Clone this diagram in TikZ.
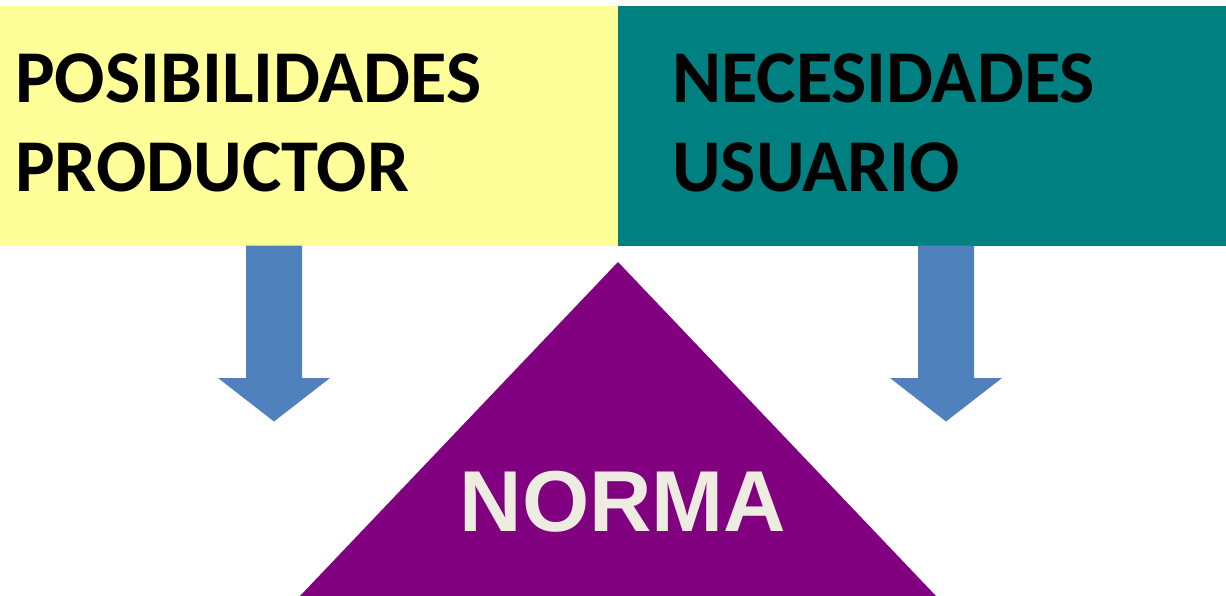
\documentclass[tikz,border=0pt]{standalone}
\usepackage{fontspec}
\setmainfont{Carlito}
\newfontfamily\normafont{Liberation Sans}
\definecolor{boxyellow}{HTML}{FFFF99}
\definecolor{boxteal}{HTML}{008080}
\definecolor{arrowblue}{HTML}{4F81BD}
\definecolor{normapurple}{HTML}{800080}
\definecolor{normatext}{HTML}{EEECE1}
\tikzset{
  box/.style={inner sep=0pt, outer sep=0pt},
  boxtext/.style={anchor=base west, inner sep=0pt, font=\bfseries\fontsize{74.5}{89}\selectfont, text=black},
  downarrow/.style={fill=arrowblue, draw=none},
}
\begin{document}
\begin{tikzpicture}[x=1pt,y=-1pt]
\useasboundingbox (0,0) rectangle (1226,596);
\fill[white] (0,0) rectangle (1226,596);
% boxes
\fill[boxyellow] (0,6) rectangle (618,245.5);
\fill[boxteal] (618,6) rectangle (1226,245.5);
% texts
\node[boxtext] (p1) at (15,103) {POSIBILIDADES};
\node[boxtext] (p2) at (15,192) {PRODUCTOR};
\node[boxtext] (n1) at (672,103) {NECESIDADES};
\node[boxtext] (n2) at (672,192) {USUARIO};
% arrows
\fill[downarrow] (246,245.5) -- (302,245.5) -- (302,378) -- (330,378) -- (274,421.5) -- (218,378) -- (246,378) -- cycle;
\fill[downarrow] (918,245.5) -- (974,245.5) -- (974,378) -- (1002,378) -- (946,421.5) -- (890,378) -- (918,378) -- cycle;
% triangle
\fill[normapurple] (618,262) -- (936,596) -- (300,596) -- cycle;
\node[anchor=base, inner sep=0pt, text=normatext, font=\normafont\bfseries\fontsize{86.5}{88}\selectfont] (norma) at (623,531.5) {NORMA};
\end{tikzpicture}
\end{document}
